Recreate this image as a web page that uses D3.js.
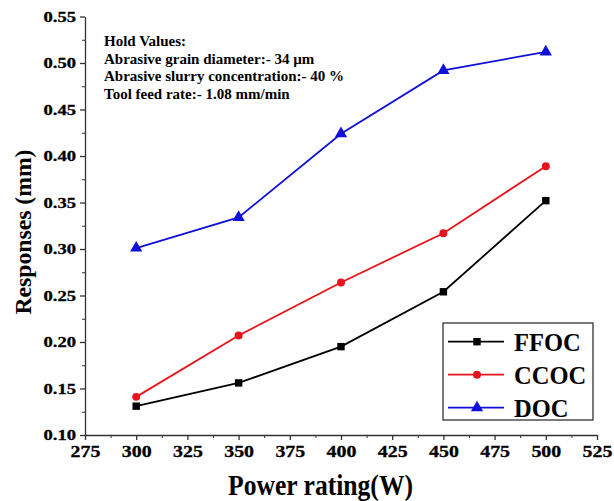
<!DOCTYPE html>
<html>
<head>
<meta charset="utf-8">
<script src="https://cdn.jsdelivr.net/npm/d3@7"></script>
<style>
  body { margin: 0; background: #fff; }
  svg text { font-family: "Liberation Serif", "Times New Roman", serif !important; font-weight: bold !important; }
</style>
</head>
<body>
<svg id="chart" width="614" height="501"></svg>
<script>
var power = [300, 350, 400, 450, 500];
var ffoc = [0.131, 0.156, 0.195, 0.254, 0.352];
var ccoc = [0.141, 0.207, 0.264, 0.317, 0.389];
var doc = [0.301, 0.334, 0.424, 0.492, 0.512];
var xTicks = [275, 300, 325, 350, 375, 400, 425, 450, 475, 500, 525];
var yTicks = [0.10, 0.15, 0.20, 0.25, 0.30, 0.35, 0.40, 0.45, 0.50, 0.55];
var holdLines = [
  "Hold Values:",
  "Abrasive grain diameter:- 34 \u00b5m",
  "Abrasive slurry concentration:- 40 %",
  "Tool feed rate:- 1.08 mm/min"
];

var series = [
  { name: "FFOC", values: ffoc, color: "#000000", shape: d3.symbolSquare, size: 55 },
  { name: "CCOC", values: ccoc, color: "#e8141b", shape: d3.symbolCircle, size: 50 },
  { name: "DOC", values: doc, color: "#1010d8", shape: d3.symbolTriangle, size: 65 }
];

var svg = d3.select("#chart");
var x = d3.scaleLinear().domain([275, 525]).range([85, 597]);
var y = d3.scaleLinear().domain([0.10, 0.55]).range([435, 16.5]);
var axisColor = "#333";

function stretch(sel, factor) {
  sel.each(function() {
    var w = this.getComputedTextLength();
    d3.select(this).attr("textLength", w * factor).attr("lengthAdjust", "spacingAndGlyphs");
  });
}

// minor ticks
svg.append("g")
  .attr("transform", "translate(0,435)")
  .call(d3.axisBottom(x).tickValues(d3.range(287.5, 525, 25)).tickSize(3).tickFormat(""))
  .call(g => g.select(".domain").remove())
  .selectAll("line").attr("stroke", axisColor);
svg.append("g")
  .attr("transform", "translate(85,0)")
  .call(d3.axisLeft(y).tickValues(d3.range(0.125, 0.55, 0.05)).tickSize(3).tickFormat(""))
  .call(g => g.select(".domain").remove())
  .selectAll("line").attr("stroke", axisColor);

var gx = svg.append("g")
  .attr("transform", "translate(0,435)")
  .call(d3.axisBottom(x).tickValues(xTicks).tickSize(5).tickPadding(5).tickSizeOuter(0).tickFormat(d3.format("d")));
gx.selectAll("line, path").attr("stroke", axisColor).attr("stroke-width", 1.3);
gx.selectAll("text").style("font-size", "17px").attr("fill", "#000")
  .attr("stroke", "#000").attr("stroke-width", 0.3)
  .call(stretch, 1.17);

var gy = svg.append("g")
  .attr("transform", "translate(85,0)")
  .call(d3.axisLeft(y).tickValues(yTicks).tickSize(5).tickPadding(4).tickSizeOuter(0).tickFormat(d3.format(".2f")));
gy.selectAll("line, path").attr("stroke", axisColor).attr("stroke-width", 1.3);
gy.selectAll("text").style("font-size", "14.5px").attr("fill", "#000")
  .attr("stroke", "#000").attr("stroke-width", 0.3)
  .call(stretch, 1.28);

// lines and markers
var line = d3.line().x((d, i) => x(power[i])).y(d => y(d));
series.forEach(function(s) {
  svg.append("path")
    .datum(s.values)
    .attr("d", line)
    .attr("fill", "none")
    .attr("stroke", s.color)
    .attr("stroke-width", 1.8);
  svg.selectAll(null)
    .data(s.values)
    .enter()
    .append("path")
    .attr("d", d3.symbol().type(s.shape).size(s.size))
    .attr("transform", (d, i) => "translate(" + x(power[i]) + "," + y(d) + ")")
    .attr("fill", s.color);
});

// axis titles
svg.append("text")
  .attr("x", 320.5).attr("y", 495)
  .attr("text-anchor", "middle")
  .style("font-size", "29px")
  .attr("textLength", 185).attr("lengthAdjust", "spacingAndGlyphs")
  .text("Power rating(W)");

svg.append("text")
  .attr("transform", "translate(31,232) rotate(-90)")
  .attr("text-anchor", "middle")
  .style("font-size", "24px")
  .attr("textLength", 165).attr("lengthAdjust", "spacingAndGlyphs")
  .text("Responses (mm)");

// hold values note
svg.append("g").selectAll("text")
  .data(holdLines)
  .enter()
  .append("text")
  .attr("x", 104)
  .attr("y", (d, i) => 45.7 + i * 17.8)
  .style("font-size", "15px")
  .text(d => d);

// legend
var legend = svg.append("g");
legend.append("rect")
  .attr("x", 443).attr("y", 323).attr("width", 150).attr("height", 97)
  .attr("fill", "#fff").attr("stroke", axisColor).attr("stroke-width", 1.3);
var rows = legend.selectAll("g.row")
  .data(series)
  .enter()
  .append("g")
  .attr("transform", (d, i) => "translate(0," + (341.7 + i * 33) + ")");
rows.append("line")
  .attr("x1", 448).attr("x2", 504)
  .attr("stroke", d => d.color).attr("stroke-width", 1.8);
rows.append("path")
  .attr("d", d => d3.symbol().type(d.shape).size(d.size)())
  .attr("transform", "translate(477,0)")
  .attr("fill", d => d.color);
rows.append("text")
  .attr("x", 514).attr("y", 9)
  .style("font-size", "24.5px")
  .attr("fill", "#000")
  .text(d => d.name);
</script>
</body>
</html>
